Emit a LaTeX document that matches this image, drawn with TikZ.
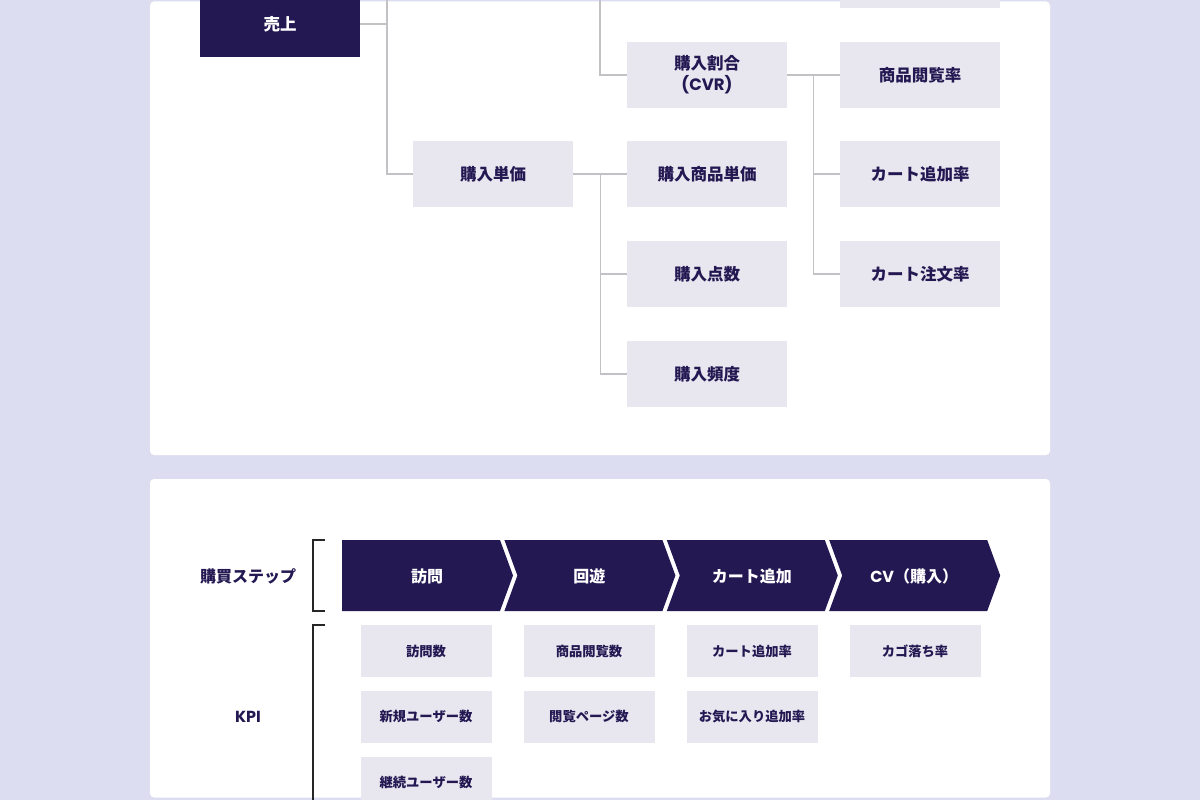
\documentclass[tikz,border=0pt]{standalone}
\usepackage{fontspec}
\setmainfont{Noto Sans CJK JP}
\newfontfamily\latinfont{Poppins}
\usetikzlibrary{positioning}
\definecolor{pagebg}{HTML}{DCDDF0}
\definecolor{navy}{HTML}{231852}
\definecolor{cell}{HTML}{E8E6EE}
\definecolor{wire}{HTML}{C2C2C6}

\begin{document}
\begin{tikzpicture}[x=1pt,y=-1pt,
  box/.style={fill=cell,text=navy,font=\bfseries\fontsize{16.5}{21}\selectfont,
    minimum width=160pt,minimum height=66pt,inner sep=0pt,align=center},
  rootbox/.style={box,fill=navy,text=white},
  kpi/.style={fill=cell,text=navy,font=\bfseries\fontsize{13.3}{15}\selectfont,
    minimum width=131pt,minimum height=52pt,inner sep=0pt},
  stepname/.style={text=white,font=\bfseries\fontsize{16}{18}\selectfont,inner sep=0pt},
  rowname/.style={text=navy,font=\bfseries\fontsize{16}{18}\selectfont,inner sep=0pt},
  link/.style={draw=wire,line width=1.4pt},
  bracket/.style={draw=black!85,line width=1.1pt}]
\useasboundingbox (0,0) rectangle (1200,800);
\clip (0,0) rectangle (1200,800);
\fill[pagebg] (0,0) rectangle (1200,800);
\fill[white,rounded corners=4pt] (150,1.5) rectangle (1050,455);
\fill[white,rounded corners=4pt] (150,479) rectangle (1050,797.5);

\node[rootbox] (sales) at (280,24) {売上};
\node[box] (upper) at (920,-25) {};
\node[box] (ratio) at (707,75) {購入割合\\{\latinfont(CVR)}};
\node[box] (unit) at (493,174) {購入単価};
\node[box] (itemprice) at (707,174) {購入商品単価};
\node[box] (qty) at (707,274) {購入点数};
\node[box] (freq) at (707,374) {購入頻度};
\node[box] (viewrate) at (920,75) {商品閲覧率};
\node[box] (cartrate) at (920,174) {カート追加率};
\node[box] (orderrate) at (920,274) {カート注文率};

\coordinate (rootbus) at (387,-2);
\coordinate (midbus) at (600,-2);
\draw[link] (sales.east) -| (rootbus);
\draw[link] (rootbus) |- (unit.west);
\draw[link] (midbus) |- (ratio.west);
\draw[link] (unit.east) -- ++(27,0) coordinate (unitbus) -- (itemprice.west);
\draw[link] (unitbus) |- (qty.west);
\draw[link] (unitbus) |- (freq.west);
\draw[link] (ratio.east) -- ++(26,0) coordinate (ratiobus) -- (viewrate.west);
\draw[link] (ratiobus) |- (cartrate.west);
\draw[link] (ratiobus) |- (orderrate.west);

\node[rowname] (steps) at (248,576) {購買ステップ};
\node[rowname] (kpis) at (248,717) {\latinfont KPI};
\draw[bracket] (325,540) -- (313,540) -- (313,611) -- (325,611);
\draw[bracket] (325,625) -- (313,625) -- (313,805);

\foreach \name/\label [count=\i from 0] in {visit/訪問,browse/回遊,cart/カート追加,cv/{{\latinfont CV}（購入）}}{
  \pgfmathsetmacro\R{500+162.4*\i}
  \pgfmathsetmacro\n{ifthenelse(\i==0,0,13)}
  \fill[navy] ({\R-158},540) -- (\R,540) -- ({\R+13},575.5) -- (\R,611)
    -- ({\R-158},611) -- ({\R-158+\n},575.5) -- cycle;
  \node[stepname] (\name) at ({\R-73},576) {\label};
}

\node[kpi] (visits) at (426,651) {訪問数};
\node[kpi,below=13.5pt of visits] (newusers) {新規ユーザー数};
\node[kpi,below=13.5pt of newusers] (repeaters) {継続ユーザー数};
\node[kpi] (views) at (589,651) {商品閲覧数};
\node[kpi,below=13.5pt of views] (pages) {閲覧ページ数};
\node[kpi] (cartadd) at (752,651) {カート追加率};
\node[kpi,below=13.5pt of cartadd] (favorite) {お気に入り追加率};
\node[kpi] (dropoff) at (915,651) {カゴ落ち率};
\end{tikzpicture}
\end{document}
